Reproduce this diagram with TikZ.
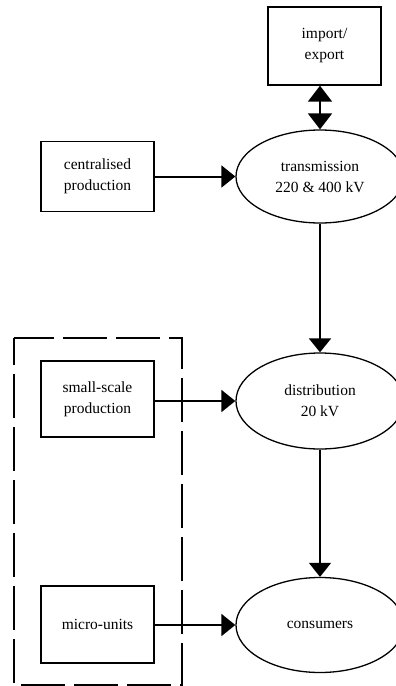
\documentclass[tikz,border=0pt]{standalone}
\usepackage{fontspec}
\setmainfont{Liberation Serif}
\usetikzlibrary{shapes.geometric,arrows.meta}
\begin{document}
\begin{tikzpicture}[x=1pt,y=-1pt,
  box/.style={draw,line width=1.4pt,rectangle,inner sep=0pt,
    minimum width=113pt,align=center,font=\fontsize{15.5}{21}\selectfont},
  oval/.style={draw,line width=1.3pt,ellipse,inner sep=0pt,
    minimum width=168pt,align=center,font=\fontsize{15.5}{21}\selectfont},
  flow/.style={line width=2pt,-{Triangle[length=14pt,width=22pt]}},
  both/.style={line width=2pt,{Triangle[length=16pt,width=24pt]}-{Triangle[length=16pt,width=24pt]}},
  group/.style={line width=1.4pt,dash pattern=on 44pt off 9pt,dash phase=17pt}]
\useasboundingbox (0,0) rectangle (396,686);
\fill[white] (0,0) rectangle (396,686);

% grid side
\node[box,minimum height=78pt] (imp) at (324.5,46) {import/\\export};
\node[oval,minimum height=93pt] (trans) at (320,176.5) {transmission\\220 \& 400 kV};
\node[oval,minimum height=96pt] (dist) at (320,401) {distribution\\20 kV};
\node[oval,minimum height=95pt] (cons) at (320,625) {consumers};

% producers
\node[box,minimum height=70pt] (cent) at (97.5,176.5) {centralised\\production};
\node[box,minimum height=76pt] (small) at (97.5,399) {small-scale\\production};
\node[box,minimum height=77pt] (micro) at (97.5,624.5) {micro-units};

% dashed frame around the distributed generation
\draw[group] (14,338) rectangle (182,685);

% connectors
\draw[both] (trans.north) -- (trans.north |- imp.south);
\draw[flow] (cent.east) -- (trans.west);
\draw[flow] (trans.south) -- (dist.north);
\draw[flow] (small.east |- dist.west) -- (dist.west);
\draw[flow,line width=1.3pt] (dist.south) -- (cons.north);
\draw[flow] (micro.east |- cons.west) -- (cons.west);
\end{tikzpicture}
\end{document}
